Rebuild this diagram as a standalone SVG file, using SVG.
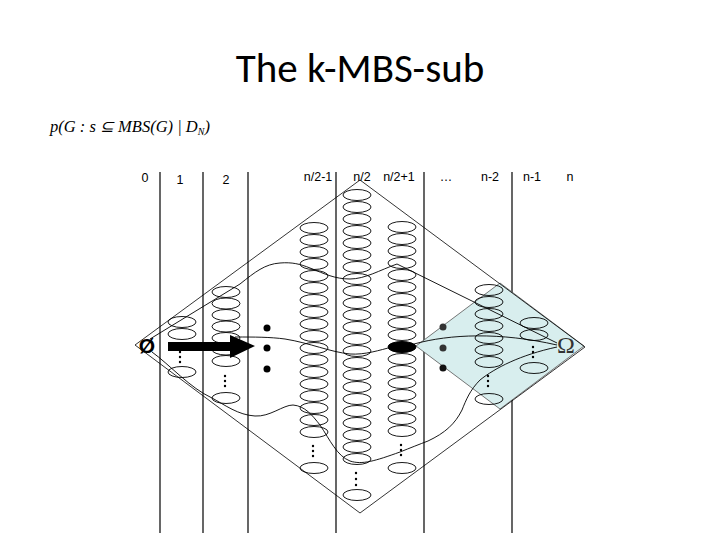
<svg xmlns="http://www.w3.org/2000/svg" width="720" height="540" viewBox="0 0 720 540">
<style>
.lbl{font-family:"Liberation Sans",Arial,sans-serif;font-size:12.5px;fill:#000}
.e{fill:none;stroke:#000;stroke-width:0.9}
.v{stroke:#000;stroke-width:1.2}
.edge{fill:none;stroke:#000;stroke-width:0.8}
.path{fill:none;stroke:#000;stroke-width:0.9}
.dot{fill:#000}
</style>
<rect width="720" height="540" fill="#fff"/>
<text x="360" y="82" text-anchor="middle" font-family="Carlito,'Liberation Sans',sans-serif" font-size="41">The k-MBS-sub</text>
<text x="50" y="132" font-family="'Liberation Serif','Times New Roman',serif" font-size="16.5" font-style="italic">p(G : s ⊆ MBS(G) | D<tspan font-size="10" dy="3">N</tspan><tspan dy="-3">)</tspan></text>

<g id="columns">
<line class="v" x1="160" y1="172" x2="160" y2="533"/>
<line class="v" x1="203" y1="172" x2="203" y2="533"/>
<line class="v" x1="248" y1="172" x2="248" y2="533"/>
<line class="v" x1="336" y1="172" x2="336" y2="533"/>
<line class="v" x1="424" y1="172" x2="424" y2="533"/>
<line class="v" x1="512" y1="172" x2="512" y2="533"/>
</g>
<g id="labels">
<text class="lbl" x="145" y="182" text-anchor="middle">0</text>
<text class="lbl" x="180" y="184" text-anchor="middle">1</text>
<text class="lbl" x="226" y="184" text-anchor="middle">2</text>
<text class="lbl" x="318" y="181" text-anchor="middle">n/2-1</text>
<text class="lbl" x="362" y="181" text-anchor="middle">n/2</text>
<text class="lbl" x="399" y="181" text-anchor="middle">n/2+1</text>
<text class="lbl" x="446" y="181" text-anchor="middle">…</text>
<text class="lbl" x="490" y="181" text-anchor="middle">n-2</text>
<text class="lbl" x="532" y="181" text-anchor="middle">n-1</text>
<text class="lbl" x="570" y="181" text-anchor="middle">n</text>
</g>

<g id="omega-region">
<polygon points="500,283 584,346 500,409 416,346" fill="#d8eeee" stroke="#555" stroke-width="0.8"/>
</g>

<g id="lattice">
<polygon class="edge" points="135,345 360,180 585,347 360,513"/>
</g>

<g id="col1">
<ellipse class="e" cx="182" cy="322" rx="14" ry="5.5"/>
<ellipse class="e" cx="182" cy="334" rx="14" ry="5.5"/>
<ellipse class="e" cx="182" cy="372" rx="14" ry="5.5"/>
<circle class="dot" cx="180" cy="352" r="1.2"/><circle class="dot" cx="180" cy="357" r="1.2"/><circle class="dot" cx="180" cy="362" r="1.2"/>
</g>
<g id="col2">
<ellipse class="e" cx="226" cy="292" rx="14" ry="5.5"/>
<ellipse class="e" cx="226" cy="303.5" rx="14" ry="5.5"/>
<ellipse class="e" cx="226" cy="315" rx="14" ry="5.5"/>
<ellipse class="e" cx="226" cy="326.5" rx="14" ry="5.5"/>
<ellipse class="e" cx="226" cy="338" rx="14" ry="5.5"/>
<ellipse class="e" cx="226" cy="349.5" rx="14" ry="5.5"/>
<ellipse class="e" cx="226" cy="361" rx="14" ry="5.5"/>
<ellipse class="e" cx="226" cy="398" rx="14" ry="5.5"/>
<circle class="dot" cx="225" cy="376" r="1.2"/><circle class="dot" cx="225" cy="381" r="1.2"/><circle class="dot" cx="225" cy="386" r="1.2"/>
</g>
<g id="colmid1">
<ellipse class="e" cx="314" cy="228" rx="14" ry="5.5"/>
<ellipse class="e" cx="314" cy="240" rx="14" ry="5.5"/>
<ellipse class="e" cx="314" cy="252" rx="14" ry="5.5"/>
<ellipse class="e" cx="314" cy="264" rx="14" ry="5.5"/>
<ellipse class="e" cx="314" cy="276" rx="14" ry="5.5"/>
<ellipse class="e" cx="314" cy="288" rx="14" ry="5.5"/>
<ellipse class="e" cx="314" cy="300" rx="14" ry="5.5"/>
<ellipse class="e" cx="314" cy="312" rx="14" ry="5.5"/>
<ellipse class="e" cx="314" cy="324" rx="14" ry="5.5"/>
<ellipse class="e" cx="314" cy="336" rx="14" ry="5.5"/>
<ellipse class="e" cx="314" cy="348" rx="14" ry="5.5"/>
<ellipse class="e" cx="314" cy="360" rx="14" ry="5.5"/>
<ellipse class="e" cx="314" cy="372" rx="14" ry="5.5"/>
<ellipse class="e" cx="314" cy="384" rx="14" ry="5.5"/>
<ellipse class="e" cx="314" cy="396" rx="14" ry="5.5"/>
<ellipse class="e" cx="314" cy="408" rx="14" ry="5.5"/>
<ellipse class="e" cx="314" cy="420" rx="14" ry="5.5"/>
<ellipse class="e" cx="314" cy="432" rx="14" ry="5.5"/>
<ellipse class="e" cx="314" cy="468" rx="14" ry="5.5"/>
<circle class="dot" cx="313" cy="446" r="1.2"/><circle class="dot" cx="313" cy="451" r="1.2"/><circle class="dot" cx="313" cy="456" r="1.2"/>
</g>
<g id="colmid">
<ellipse class="e" cx="357" cy="195" rx="14" ry="5.5"/>
<ellipse class="e" cx="357" cy="207" rx="14" ry="5.5"/>
<ellipse class="e" cx="357" cy="219" rx="14" ry="5.5"/>
<ellipse class="e" cx="357" cy="231" rx="14" ry="5.5"/>
<ellipse class="e" cx="357" cy="243" rx="14" ry="5.5"/>
<ellipse class="e" cx="357" cy="255" rx="14" ry="5.5"/>
<ellipse class="e" cx="357" cy="267" rx="14" ry="5.5"/>
<ellipse class="e" cx="357" cy="279" rx="14" ry="5.5"/>
<ellipse class="e" cx="357" cy="291" rx="14" ry="5.5"/>
<ellipse class="e" cx="357" cy="303" rx="14" ry="5.5"/>
<ellipse class="e" cx="357" cy="315" rx="14" ry="5.5"/>
<ellipse class="e" cx="357" cy="327" rx="14" ry="5.5"/>
<ellipse class="e" cx="357" cy="339" rx="14" ry="5.5"/>
<ellipse class="e" cx="357" cy="351" rx="14" ry="5.5"/>
<ellipse class="e" cx="357" cy="363" rx="14" ry="5.5"/>
<ellipse class="e" cx="357" cy="375" rx="14" ry="5.5"/>
<ellipse class="e" cx="357" cy="387" rx="14" ry="5.5"/>
<ellipse class="e" cx="357" cy="399" rx="14" ry="5.5"/>
<ellipse class="e" cx="357" cy="411" rx="14" ry="5.5"/>
<ellipse class="e" cx="357" cy="423" rx="14" ry="5.5"/>
<ellipse class="e" cx="357" cy="435" rx="14" ry="5.5"/>
<ellipse class="e" cx="357" cy="447" rx="14" ry="5.5"/>
<ellipse class="e" cx="357" cy="459" rx="14" ry="5.5"/>
<ellipse class="e" cx="357" cy="495" rx="14" ry="5.5"/>
<circle class="dot" cx="356" cy="473" r="1.2"/><circle class="dot" cx="356" cy="479" r="1.2"/><circle class="dot" cx="356" cy="485" r="1.2"/>
</g>
<g id="colmid2">
<ellipse class="e" cx="402" cy="227" rx="14" ry="5.5"/>
<ellipse class="e" cx="402" cy="239" rx="14" ry="5.5"/>
<ellipse class="e" cx="402" cy="251" rx="14" ry="5.5"/>
<ellipse class="e" cx="402" cy="263" rx="14" ry="5.5"/>
<ellipse class="e" cx="402" cy="275" rx="14" ry="5.5"/>
<ellipse class="e" cx="402" cy="287" rx="14" ry="5.5"/>
<ellipse class="e" cx="402" cy="299" rx="14" ry="5.5"/>
<ellipse class="e" cx="402" cy="311" rx="14" ry="5.5"/>
<ellipse class="e" cx="402" cy="323" rx="14" ry="5.5"/>
<ellipse class="e" cx="402" cy="335" rx="14" ry="5.5"/>
<ellipse cx="402" cy="347" rx="14" ry="5.5" fill="#000" stroke="#000"/>
<ellipse class="e" cx="402" cy="359" rx="14" ry="5.5"/>
<ellipse class="e" cx="402" cy="371" rx="14" ry="5.5"/>
<ellipse class="e" cx="402" cy="383" rx="14" ry="5.5"/>
<ellipse class="e" cx="402" cy="395" rx="14" ry="5.5"/>
<ellipse class="e" cx="402" cy="407" rx="14" ry="5.5"/>
<ellipse class="e" cx="402" cy="419" rx="14" ry="5.5"/>
<ellipse class="e" cx="402" cy="431" rx="14" ry="5.5"/>
<ellipse class="e" cx="402" cy="468" rx="14" ry="5.5"/>
<circle class="dot" cx="401" cy="445" r="1.2"/><circle class="dot" cx="401" cy="450" r="1.2"/><circle class="dot" cx="401" cy="455" r="1.2"/>
</g>
<g id="coln2">
<ellipse class="e" cx="489" cy="290" rx="14" ry="5.5"/>
<ellipse class="e" cx="489" cy="302" rx="14" ry="5.5"/>
<ellipse class="e" cx="489" cy="314" rx="14" ry="5.5"/>
<ellipse class="e" cx="489" cy="326" rx="14" ry="5.5"/>
<ellipse class="e" cx="489" cy="338" rx="14" ry="5.5"/>
<ellipse class="e" cx="489" cy="350" rx="14" ry="5.5"/>
<ellipse class="e" cx="489" cy="362" rx="14" ry="5.5"/>
<ellipse class="e" cx="489" cy="399" rx="14" ry="5.5"/>
<circle class="dot" cx="488" cy="376" r="1.2"/><circle class="dot" cx="488" cy="381" r="1.2"/><circle class="dot" cx="488" cy="386" r="1.2"/>
</g>
<g id="coln1">
<ellipse class="e" cx="534" cy="323" rx="14" ry="5.5"/>
<ellipse class="e" cx="534" cy="335" rx="14" ry="5.5"/>
<ellipse class="e" cx="534" cy="368" rx="14" ry="5.5"/>
<circle class="dot" cx="533" cy="347" r="1.2"/><circle class="dot" cx="533" cy="352" r="1.2"/><circle class="dot" cx="533" cy="357" r="1.2"/>
</g>

<g id="connectors">
<path class="path" d="M150,339 L240,284 C255,272 265,264 280,263 C292,262 300,264 310,268 C325,274 335,279 350,279 C365,279 380,270 397,264 L557,343"/>
<path class="path" d="M235,337 C255,337 270,337 285,339 C310,343 330,352 350,354 C365,355 380,350 392,347"/>
<path class="path" d="M414,344 C450,334 500,332 557,345"/>
<path class="path" d="M152,352 C170,365 190,388 212,398 C225,405 238,415 255,416 C270,417 283,405 293,405 C305,406 312,415 320,425 C330,440 337,456 350,461 C362,465 375,461 400,452 C410,448 420,444 428,441 C445,433 455,424 462,410 C466,400 470,390 480,380 C495,368 520,355 557,347"/>
<polygon points="168,342 230,342 230,335 255,346 230,358 230,351 168,351" fill="#000"/>
</g>

<g id="dots-left">
<circle class="dot" cx="267" cy="328" r="3.5"/>
<circle class="dot" cx="267" cy="348" r="3.5"/>
<circle class="dot" cx="267" cy="369" r="3.5"/>
</g>
<g id="dots-right">
<circle cx="443" cy="327" r="3.5" fill="#333"/>
<circle cx="443" cy="348" r="3.5" fill="#333"/>
<circle cx="443" cy="368" r="3.5" fill="#111"/>
</g>
<g id="empty-set">
<text x="147" y="353" text-anchor="middle" font-family="'Liberation Sans',Arial,sans-serif" font-size="21" font-weight="bold">Ø</text>
</g>
<g id="omega">
<text x="566" y="353" text-anchor="middle" font-family="'Liberation Serif','Times New Roman',serif" font-size="24" fill="#333">Ω</text>
</g>
</svg>
